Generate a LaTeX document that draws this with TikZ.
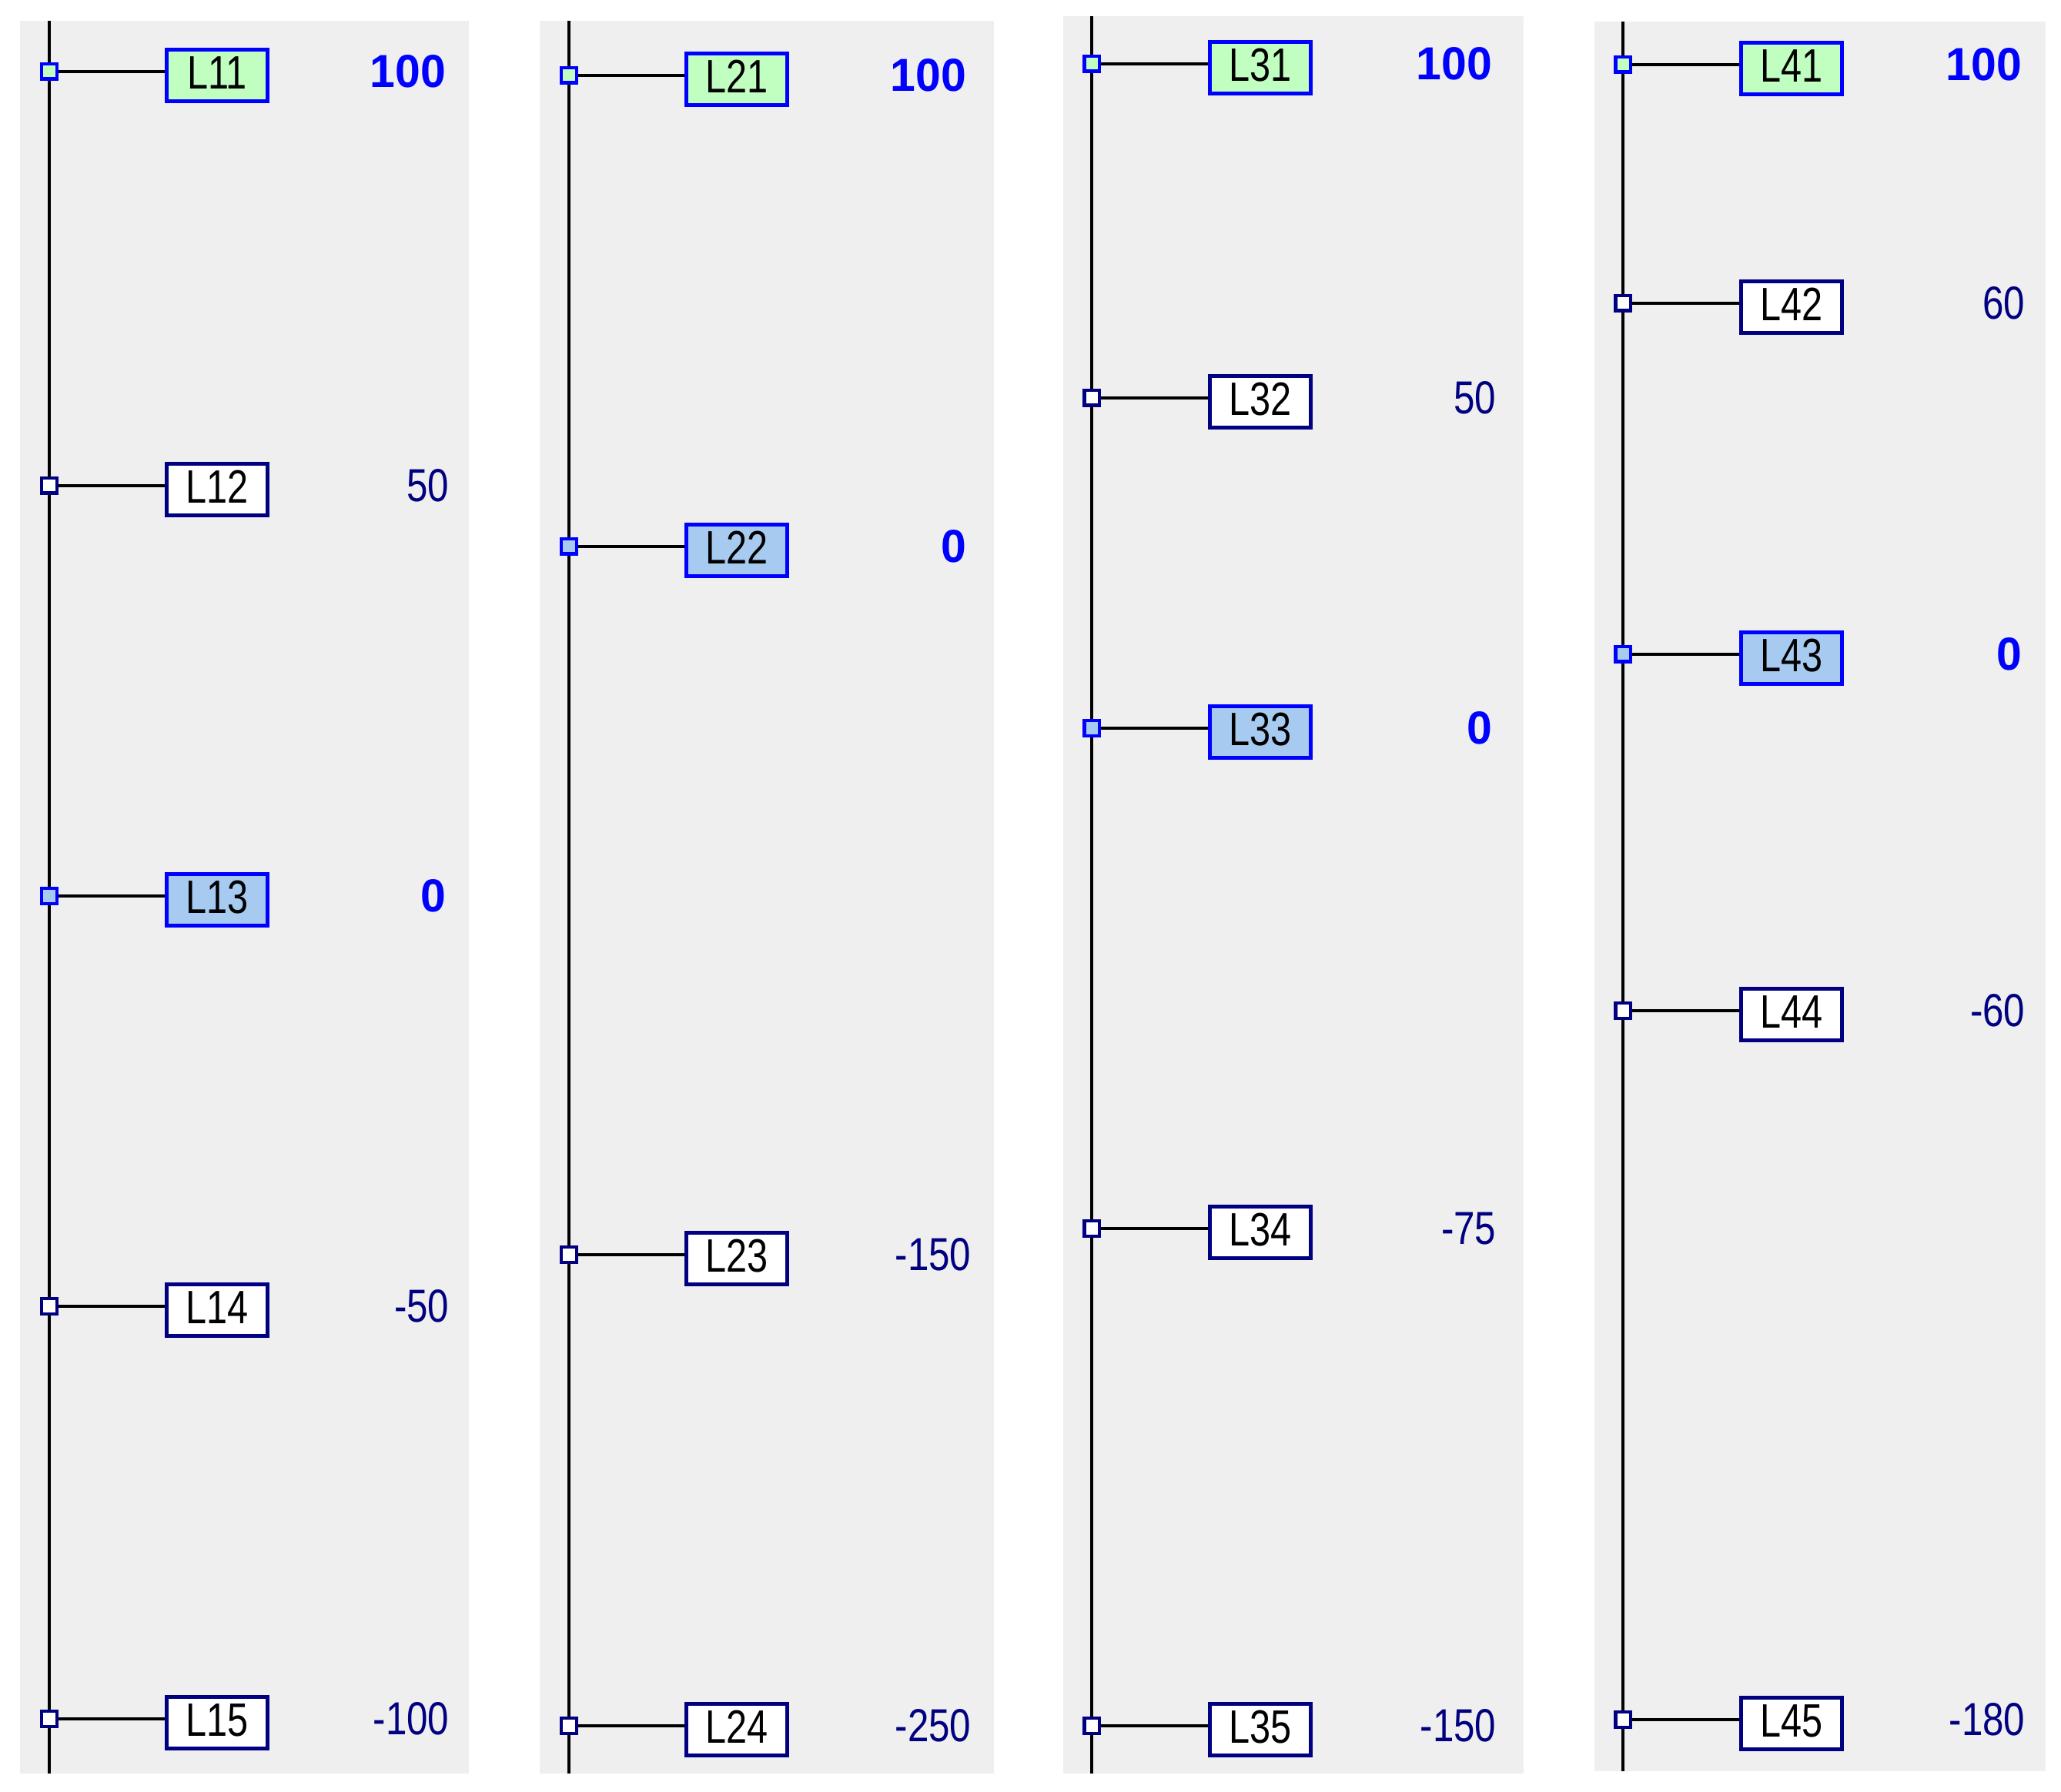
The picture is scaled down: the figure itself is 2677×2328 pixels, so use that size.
\documentclass[tikz,border=0pt]{standalone}
\usepackage{fontspec}
\setmainfont{Liberation Sans}
\newfontfamily\lblfont[FakeStretch=0.8]{Liberation Sans}
\newfontfamily\valfont[FakeStretch=0.82]{Liberation Sans}
\newfontfamily\valbfont[FakeStretch=0.98]{Liberation Sans Bold}
\definecolor{bgc}{HTML}{EFEFEF}
\definecolor{gfill}{HTML}{C0FFC0}
\definecolor{bfill}{HTML}{A6CAF0}
\definecolor{bline}{HTML}{0000FF}
\definecolor{navy}{HTML}{000080}
\tikzset{
  panel/.style={fill=bgc, draw=none},
  busline/.style={line width=0.04cm, black},
  conn/.style={line width=0.04cm, black},
  tap/.style={rectangle, draw=navy, fill=white, line width=0.045cm, minimum size=0.195cm, inner sep=0pt},
  tapg/.style={tap, draw=bline, fill=gfill},
  tapb/.style={tap, draw=bline, fill=bfill},
  lbox/.style={rectangle, draw=navy, fill=white, line width=0.05cm, minimum width=1.31cm, minimum height=0.67cm, inner sep=0pt, text height=0.40cm, text depth=0.05cm, text=black, font=\lblfont\fontsize{17.3pt}{20pt}\selectfont},
  lboxg/.style={lbox, draw=bline, fill=gfill},
  lboxb/.style={lbox, draw=bline, fill=bfill},
  val/.style={anchor=east, inner sep=0pt, text=navy, font=\valfont\fontsize{17.1pt}{20pt}\selectfont},
  valb/.style={anchor=east, inner sep=0pt, text=bline, font=\valbfont\fontsize{17.1pt}{20pt}\selectfont}
}
\begin{document}
\begin{tikzpicture}[x=0.01cm, y=-0.01cm]
\useasboundingbox (0,0) rectangle (2677,2328);
% panels
\fill[panel] (26,27) rectangle (609,2304);
\fill[panel] (701,27) rectangle (1291,2304);
\fill[panel] (1381,21) rectangle (1979,2304);
\fill[panel] (2071,28) rectangle (2657,2301);
% bus lines
\coordinate (p1top) at (64,27);   \coordinate (p1bot) at (64,2304);
\coordinate (p2top) at (739,27);  \coordinate (p2bot) at (739,2304);
\coordinate (p3top) at (1418,21); \coordinate (p3bot) at (1418,2304);
\coordinate (p4top) at (2108,28); \coordinate (p4bot) at (2108,2301);
\draw[busline] (p1top) -- (p1bot);
\draw[busline] (p2top) -- (p2bot);
\draw[busline] (p3top) -- (p3bot);
\draw[busline] (p4top) -- (p4bot);

% ---------- panel 1
\node[tapg] (t11) at (64,93) {};
\node[lboxg] (b11) at (282,98) {L11};
\node[valb] (v11) at (580,93) {100};
\node[tap] (t12) at (64,631) {};
\node[lbox] (b12) at (282,636) {L12};
\node[val] (v12) at (584,631) {50};
\node[tapb] (t13) at (64,1164) {};
\node[lboxb] (b13) at (282,1169) {L13};
\node[valb] (v13) at (580,1164) {0};
\node[tap] (t14) at (64,1697) {};
\node[lbox] (b14) at (282,1702) {L14};
\node[val] (v14) at (584,1697) {-50};
\node[tap] (t15) at (64,2233) {};
\node[lbox] (b15) at (282,2238) {L15};
\node[val] (v15) at (584,2233) {-100};

% ---------- panel 2
\node[tapg] (t21) at (739,98) {};
\node[lboxg] (b21) at (957,103) {L21};
\node[valb] (v21) at (1256,98) {100};
\node[tapb] (t22) at (739,710) {};
\node[lboxb] (b22) at (957,715) {L22};
\node[valb] (v22) at (1256,710) {0};
\node[tap] (t23) at (739,1630) {};
\node[lbox] (b23) at (957,1635) {L23};
\node[val] (v23) at (1262,1630) {-150};
\node[tap] (t24) at (739,2242) {};
\node[lbox] (b24) at (957,2247) {L24};
\node[val] (v24) at (1262,2242) {-250};

% ---------- panel 3
\node[tapg] (t31) at (1418,83) {};
\node[lboxg] (b31) at (1637,88) {L31};
\node[valb] (v31) at (1939,83) {100};
\node[tap] (t32) at (1418,517) {};
\node[lbox] (b32) at (1637,522) {L32};
\node[val] (v32) at (1944,517) {50};
\node[tapb] (t33) at (1418,946) {};
\node[lboxb] (b33) at (1637,951) {L33};
\node[valb] (v33) at (1939,946) {0};
\node[tap] (t34) at (1418,1596) {};
\node[lbox] (b34) at (1637,1601) {L34};
\node[val] (v34) at (1944,1596) {-75};
\node[tap] (t35) at (1418,2242) {};
\node[lbox] (b35) at (1637,2247) {L35};
\node[val] (v35) at (1944,2242) {-150};

% ---------- panel 4
\node[tapg] (t41) at (2108,84) {};
\node[lboxg] (b41) at (2327,89) {L41};
\node[valb] (v41) at (2627,84) {100};
\node[tap] (t42) at (2108,394) {};
\node[lbox] (b42) at (2327,399) {L42};
\node[val] (v42) at (2631,394) {60};
\node[tapb] (t43) at (2108,850) {};
\node[lboxb] (b43) at (2327,855) {L43};
\node[valb] (v43) at (2627,850) {0};
\node[tap] (t44) at (2108,1313) {};
\node[lbox] (b44) at (2327,1318) {L44};
\node[val] (v44) at (2631,1313) {-60};
\node[tap] (t45) at (2108,2234) {};
\node[lbox] (b45) at (2327,2239) {L45};
\node[val] (v45) at (2631,2234) {-180};

% connectors
\foreach \r in {11,12,13,14,15,21,22,23,24,31,32,33,34,35,41,42,43,44,45}
  \draw[conn] (t\r.east) -- (t\r.east -| b\r.west);
\end{tikzpicture}
\end{document}
